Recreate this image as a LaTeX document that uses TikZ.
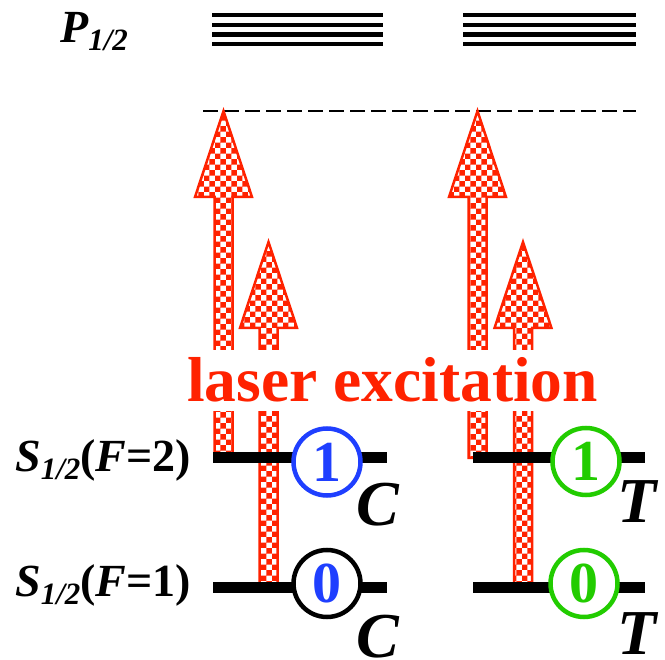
\documentclass[tikz,border=0pt]{standalone}
\usepackage{fontspec}
\setmainfont{Liberation Serif}
\usetikzlibrary{patterns}
\definecolor{laser}{HTML}{FF2200}
\definecolor{ctrl}{HTML}{1F3FFF}
\definecolor{targ}{HTML}{22CC00}
\newcommand{\half}{\raisebox{-8pt}{\fontsize{31}{31}\selectfont 1/2}}
\newcommand{\bigfont}[1]{\fontsize{#1}{#1}\selectfont\bfseries}

\begin{document}
\begin{tikzpicture}[x=1pt,y=-1pt,
  level/.style={line width=11pt},
  beam/.style={draw=laser,line width=2.5pt,pattern=checkerboard,pattern color=laser},
  qubit/.style={circle,draw,line width=4.5pt,fill=white,minimum size=67pt,inner sep=0pt,font=\bigfont{58}},
  lbl/.style={anchor=base west,inner sep=0pt,font=\bigfont{46}\itshape}]
  \useasboundingbox (0,0) rectangle (665,660);

  % P_{1/2} manifold
  \node[lbl] (p) at (60,43) {P\half};
  \foreach \y in {15,25,34.5,44} {
    \draw[line width=4.7pt] (212,\y) -- (383,\y);
    \draw[line width=4.7pt] (463,\y) -- (636,\y);
  }

  % virtual level
  \draw[line width=2pt,dash pattern=on 15pt off 6pt] (203,111) -- (636,111);

  % Raman beams
  \foreach \cx/\tip/\bot in {223.5/111/458, 268.5/242/588, 477.5/111/458, 523/242/588} {
    \draw[beam] (\cx-9,\bot) -- (\cx-9,\tip+86) -- (\cx-28.5,\tip+86) -- (\cx,\tip)
      -- (\cx+28.5,\tip+86) -- (\cx+9,\tip+86) -- (\cx+9,\bot) -- cycle;
  }
  \node[fill=white,inner sep=8pt,anchor=base,text=laser,font=\bigfont{63.5}] (exc) at (392.5,402) {laser excitation};

  % S_{1/2} levels
  \node[lbl] (s2) at (15,472) {S\half{\upshape(}F{\upshape =2)}};
  \node[lbl] (s1) at (15,597) {S\half{\upshape(}F{\upshape =1)}};
  \draw[level] (213,458) -- (387,458);
  \draw[level] (213,588) -- (387,588);
  \draw[level] (473,458) -- (645,458);
  \draw[level] (473,588) -- (645,588);

  % qubits
  \node[qubit,draw=ctrl,text=ctrl] (c1) at (327,462) {1};
  \node[qubit,draw=black,text=ctrl] (c0) at (327,583.5) {0};
  \node[qubit,draw=targ,text=targ] (t1) at (586,461.5) {1};
  \node[qubit,draw=targ,text=targ] (t0) at (584,583.5) {0};
  \node[lbl,font=\bigfont{64}\itshape] (cc1) at (356,526) {C};
  \node[lbl,font=\bigfont{64}\itshape] (cc0) at (356,657) {C};
  \node[lbl,font=\bigfont{64}\itshape] (tt1) at (617,523) {T};
  \node[lbl,font=\bigfont{64}\itshape] (tt0) at (617,655) {T};
\end{tikzpicture}
\end{document}
